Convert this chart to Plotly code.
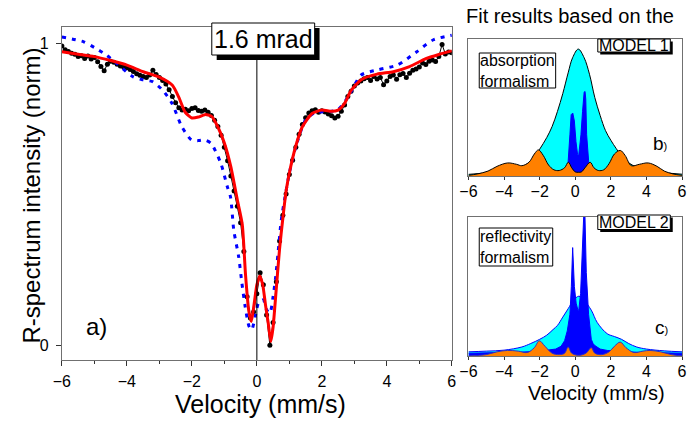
import numpy as np
import plotly.graph_objects as go

W, H = 689, 421
FONT = "Liberation Sans, Arial, sans-serif"

# ---- main panel a) : measured R-spectrum and two fits ----
vel = np.round(np.linspace(-6, 6, 121), 2)
data_r = [0.99, 0.978, 0.972, 0.966, 0.963, 0.955, 0.958, 0.949, 0.957, 0.947,
          0.952, 0.938, 0.922, 0.908, 0.93, 0.94, 0.936, 0.93, 0.924, 0.921,
          0.918, 0.912, 0.906, 0.898, 0.893, 0.889, 0.886, 0.894, 0.91, 0.896,
          0.886, 0.876, 0.864, 0.845, 0.823, 0.802, 0.786, 0.778, 0.781, 0.776,
          0.783, 0.786, 0.777, 0.774, 0.778, 0.771, 0.76, 0.744, 0.724, 0.695,
          0.655, 0.61, 0.56, 0.51, 0.46, 0.405, 0.31, 0.16, 0.09, 0.11,
          0.17, 0.24, 0.2, 0.1, 0.0, 0.075, 0.21, 0.345, 0.43, 0.5,
          0.565, 0.612, 0.655, 0.698, 0.73, 0.753, 0.768, 0.776, 0.779, 0.771,
          0.776, 0.772, 0.765, 0.759, 0.752, 0.758, 0.774, 0.795, 0.823, 0.84,
          0.858, 0.868, 0.874, 0.882, 0.886, 0.876, 0.889, 0.881, 0.886, 0.862,
          0.874, 0.889, 0.894, 0.88, 0.895, 0.899, 0.886, 0.9, 0.91, 0.914,
          0.921, 0.934, 0.929, 0.94, 0.944, 0.939, 0.955, 0.995, 0.964, 0.97,
          0.968]

fit_red_v = [-6, -5.5, -5, -4.5, -4, -3.5, -3, -2.6, -2.4, -2.2, -2.0, -1.8, -1.6,
             -1.4, -1.2, -1.0, -0.8, -0.6, -0.45, -0.35, -0.25, -0.17, -0.08, 0.0,
             0.09, 0.18, 0.27, 0.35, 0.43, 0.5, 0.6, 0.7, 0.8, 0.9, 1.0, 1.2, 1.4,
             1.7, 2.0, 2.3, 2.5, 2.7, 2.9, 3.2, 3.7, 4.2, 4.7, 5.2, 5.6, 6.0]
fit_red = [0.971, 0.963, 0.955, 0.942, 0.927, 0.905, 0.887, 0.86, 0.82, 0.77, 0.752,
           0.755, 0.763, 0.758, 0.722, 0.669, 0.59, 0.48, 0.40, 0.235, 0.115, 0.078,
           0.14, 0.2, 0.229, 0.2, 0.13, 0.073, 0.012, 0.06, 0.19, 0.32, 0.42, 0.51,
           0.57, 0.66, 0.723, 0.767, 0.778, 0.774, 0.778, 0.80, 0.843, 0.878, 0.897,
           0.905, 0.922, 0.948, 0.962, 0.974]

fit_blue_v = [-6, -5.33, -5, -4.63, -4.32, -3.82, -3.5, -3.21, -2.91, -2.61, -2.31,
              -2.01, -1.8, -1.61, -1.41, -1.11, -0.91, -0.81, -0.71, -0.56, -0.46,
              -0.36, -0.24, -0.16, -0.05, 0.05, 0.2, 0.3, 0.4, 0.5, 0.58, 0.68, 0.75,
              0.85, 1.0, 1.2, 1.5, 1.8, 2.2, 2.5, 2.81, 3.21, 3.71, 4.32, 4.92, 5.42, 6.0]
fit_blue = [1.02, 1.004, 0.985, 0.96, 0.933, 0.889, 0.878, 0.872, 0.845, 0.80, 0.723,
            0.679, 0.677, 0.679, 0.668, 0.602, 0.525, 0.49, 0.38, 0.293, 0.205,
            0.128, 0.062, 0.051, 0.095, 0.139, 0.15, 0.117, 0.106, 0.161, 0.227,
            0.337, 0.414, 0.48, 0.57, 0.657, 0.745, 0.77, 0.773, 0.78, 0.822, 0.894,
            0.911, 0.927, 0.971, 1.01, 1.026]

# ---- inset b) MODEL 1, absorption formalism ----
b_cyan_v = [-6, -5, -4, -3.3, -2.8, -2.4, -2.0, -1.6, -1.3, -1.0, -0.7, -0.4, -0.15,
            0.17, 0.5, 0.8, 1.1, 1.4, 1.7, 2.0, 2.3, 2.7, 3.2, 4.0, 5.0, 6.0]
b_cyan = [0.012, 0.022, 0.035, 0.05, 0.08, 0.12, 0.195, 0.28, 0.36, 0.47, 0.6, 0.75,
          0.86, 0.923, 0.86, 0.74, 0.57, 0.44, 0.33, 0.26, 0.2, 0.13, 0.08, 0.04,
          0.024, 0.013]
b_blue_v = [-0.6, -0.5, -0.41, -0.3, -0.23, -0.14, -0.05, 0.04, 0.13, 0.19, 0.32,
            0.41, 0.5, 0.55, 0.59, 0.64, 0.72, 0.78, 0.87, 1.0]
b_blue = [0.0, 0.04, 0.085, 0.3, 0.446, 0.458, 0.40, 0.25, 0.157, 0.145, 0.30, 0.47,
          0.61, 0.615, 0.56, 0.30, 0.11, 0.06, 0.025, 0.0]
b_orange_v = [-6, -5.5, -4.9, -4.4, -3.8, -3.3, -3.0, -2.6, -2.3, -2.07, -1.8, -1.5,
              -1.2, -0.9, -0.6, -0.39, -0.2, 0.0, 0.17, 0.35, 0.55, 0.84, 1.05, 1.3,
              1.6, 1.9, 2.2, 2.53, 2.8, 3.15, 3.6, 4.1, 4.6, 5.0, 5.5, 6.0]
b_orange = [0.005, 0.015, 0.036, 0.07, 0.095, 0.085, 0.075, 0.1, 0.16, 0.19, 0.15,
            0.08, 0.045, 0.04, 0.06, 0.10, 0.06, 0.03, 0.027, 0.03, 0.06, 0.10, 0.06,
            0.04, 0.045, 0.09, 0.16, 0.186, 0.15, 0.075, 0.085, 0.095, 0.07, 0.036,
            0.015, 0.005]

# ---- inset c) MODEL 2, reflectivity formalism ----
c_cyan_v = [-6, -5, -4, -3, -2.5, -2, -1.6, -1.25, -1.0, -0.7, -0.4, -0.1, 0.2, 0.5,
            0.9, 1.24, 1.8, 2.2, 2.6, 3.0, 3.45, 4, 5, 6]
c_cyan = [0.03, 0.035, 0.042, 0.065, 0.09, 0.12, 0.15, 0.19, 0.22, 0.28, 0.34, 0.4,
          0.43, 0.4, 0.33, 0.24, 0.16, 0.14, 0.12, 0.09, 0.065, 0.05, 0.037, 0.03]
c_blue_v = [-6, -4, -3, -2, -1.5, -1.1, -0.8, -0.6, -0.45, -0.3, -0.22, -0.145, -0.05,
            0.05, 0.15, 0.2, 0.3, 0.4, 0.52, 0.62, 0.75, 0.9, 1.0, 1.1, 1.4, 1.8, 2.5,
            3.5, 6]
c_blue = [0.02, 0.024, 0.028, 0.035, 0.045, 0.05, 0.07, 0.11, 0.18, 0.3, 0.5, 0.78,
          0.5, 0.38, 0.33, 0.33, 0.45, 0.75, 1.15, 0.6, 0.3, 0.12, 0.09, 0.075, 0.05,
          0.04, 0.032, 0.027, 0.02]
c_orange_v = [-6, -5, -4.4, -3.82, -3.2, -2.7, -2.3, -2.02, -1.7, -1.3, -0.9, -0.6,
              -0.4, -0.2, 0.2, 0.6, 0.9, 1.1, 1.5, 1.9, 2.2, 2.53, 2.85, 3.3, 3.8, 4.2,
              4.8, 5.4, 6]
c_orange = [0.0, 0.01, 0.03, 0.04, 0.035, 0.025, 0.06, 0.109, 0.07, 0.02, 0.01, 0.02,
            0.065, 0.02, 0.005, 0.02, 0.06, 0.02, 0.01, 0.03, 0.07, 0.10, 0.06, 0.025,
            0.035, 0.04, 0.03, 0.01, 0.0]

CYAN, BLUE, ORANGE = "#00FFFF", "#0000FF", "#FF8000"


def px(x):
    return x / W


def py(y):
    return 1 - y / H


fig = go.Figure()

fig.add_trace(go.Scatter(x=vel, y=data_r, mode="lines+markers",
                         line=dict(color="black", width=1),
                         marker=dict(color="black", size=5), xaxis="x", yaxis="y"))
fig.add_trace(go.Scatter(x=fit_blue_v, y=fit_blue, mode="lines",
                         line=dict(color=BLUE, width=3, dash="4px,6px", shape="spline",
                                   smoothing=0.7), xaxis="x", yaxis="y"))
fig.add_trace(go.Scatter(x=fit_red_v, y=fit_red, mode="lines",
                         line=dict(color="red", width=3, shape="spline", smoothing=0.6),
                         xaxis="x", yaxis="y"))

# inset b
fig.add_trace(go.Scatter(x=b_cyan_v, y=b_cyan, mode="lines", fill="tozeroy",
                         fillcolor=CYAN, line=dict(color="black", width=1, shape="spline"),
                         xaxis="x2", yaxis="y2"))
fig.add_trace(go.Scatter(x=b_blue_v, y=b_blue, mode="lines", fill="tozeroy",
                         fillcolor=BLUE, line=dict(color=BLUE, width=1),
                         xaxis="x2", yaxis="y2"))
fig.add_trace(go.Scatter(x=b_orange_v, y=b_orange, mode="lines", fill="tozeroy",
                         fillcolor=ORANGE, line=dict(color="black", width=1, shape="spline"),
                         xaxis="x2", yaxis="y2"))

# inset c
fig.add_trace(go.Scatter(x=c_cyan_v, y=c_cyan, mode="lines", fill="tozeroy",
                         fillcolor=CYAN, line=dict(color=BLUE, width=1, shape="spline"),
                         xaxis="x3", yaxis="y3"))
fig.add_trace(go.Scatter(x=c_blue_v, y=c_blue, mode="lines", fill="tozeroy",
                         fillcolor=BLUE, line=dict(color=BLUE, width=1),
                         xaxis="x3", yaxis="y3"))
fig.add_trace(go.Scatter(x=c_orange_v, y=c_orange, mode="lines", fill="tozeroy",
                         fillcolor=ORANGE, line=dict(color="#3030c0", width=1, shape="spline"),
                         xaxis="x3", yaxis="y3"))

frame = dict(showline=True, mirror=True, linecolor="#707070", linewidth=1,
             showgrid=False, zeroline=False)
xt = dict(range=[-6, 6], tick0=-6, dtick=2, ticks="outside", tickcolor="#333",
          tickfont=dict(size=16, color="black"))

fig.update_layout(
    width=W, height=H, margin=dict(l=0, r=0, t=0, b=0),
    paper_bgcolor="white", plot_bgcolor="white", showlegend=False,
    font=dict(family=FONT, color="black"),
    xaxis=dict(domain=[px(54), px(452)], anchor="y", ticklen=5, ticklabelstandoff=2,
               minor=dict(dtick=1, ticklen=3, ticks="outside", tickcolor="#333"),
               **xt, **frame),
    yaxis=dict(domain=[py(360), py(27)], anchor="x", range=[-0.049, 1.053],
               tickvals=[0, 1], ticks="outside", ticklen=5, tickcolor="#333",
               ticklabelstandoff=4, tickfont=dict(size=16, color="black"), **frame),
    xaxis2=dict(domain=[px(469), px(687)], anchor="y2", ticklen=3,
                ticklabelstandoff=-2, **xt, **frame),
    yaxis2=dict(domain=[py(176), py(38.5)], anchor="x2", range=[0, 1],
                showticklabels=False, ticks="", **frame),
    xaxis3=dict(domain=[px(469), px(687)], anchor="y3", ticklen=3,
                ticklabelstandoff=-2, **xt, **frame),
    yaxis3=dict(domain=[py(356), py(217)], anchor="x3", range=[0, 1],
                showticklabels=False, ticks="", **frame),
)

shapes = [
    dict(type="line", xref="x", yref="y domain", x0=0, x1=0, y0=0, y1=1,
         line=dict(color="black", width=1)),
]


def box(x0, y0, x1, y1, shadow=0):
    if shadow:
        shapes.append(dict(type="rect", xref="paper", yref="paper", layer="above",
                           x0=px(x0 + shadow), x1=px(x1 + shadow),
                           y0=py(y1 + shadow), y1=py(y0 + shadow),
                           fillcolor="black", line=dict(width=0)))
    shapes.append(dict(type="rect", xref="paper", yref="paper", layer="above",
                       x0=px(x0), x1=px(x1), y0=py(y1), y1=py(y0),
                       fillcolor="white", line=dict(color="black", width=1)))


box(207, 23, 312, 55, shadow=5)
box(601, 39, 675, 52, shadow=2.5)
box(480, 53, 558, 88)
box(601, 215, 675, 229.5, shadow=2.5)
box(480, 228, 555, 266)
fig.update_layout(shapes=shapes)


def label(text, x, y, size, angle=0, align="center"):
    fig.add_annotation(text=text, x=px(x), y=py(y), xref="paper", yref="paper",
                       showarrow=False, textangle=angle, align=align,
                       xanchor="center", yanchor="middle",
                       font=dict(family=FONT, size=size, color="black"))


label("1.6 mrad", 259.5, 39.5, 25)
label("R-spectrum intensity (norm)", 22, 196, 24, angle=-90)
label("Velocity (mm/s)", 256.7, 404, 25)
label("a)", 89, 326, 24)
label("Fit results based on the", 573, 16, 20)
label("MODEL 1", 638, 45.5, 16)
label("absorption<br>formalism", 519, 70.5, 16, align="left")
label('b<span style="font-size:11px">)</span>', 665, 143, 19)
label("MODEL 2", 638, 222, 16)
label("reflectivity<br>formalism", 517.5, 247, 16, align="left")
label('c<span style="font-size:11px">)</span>', 666, 327, 19)
label("Velocity (mm/s)", 600, 393, 20)

# drop the browser's default page margin so the 689x421 figure fills the window
fig.write_html("out.html", config={"displayModeBar": False},
               post_script="document.body.style.margin = '0';")
